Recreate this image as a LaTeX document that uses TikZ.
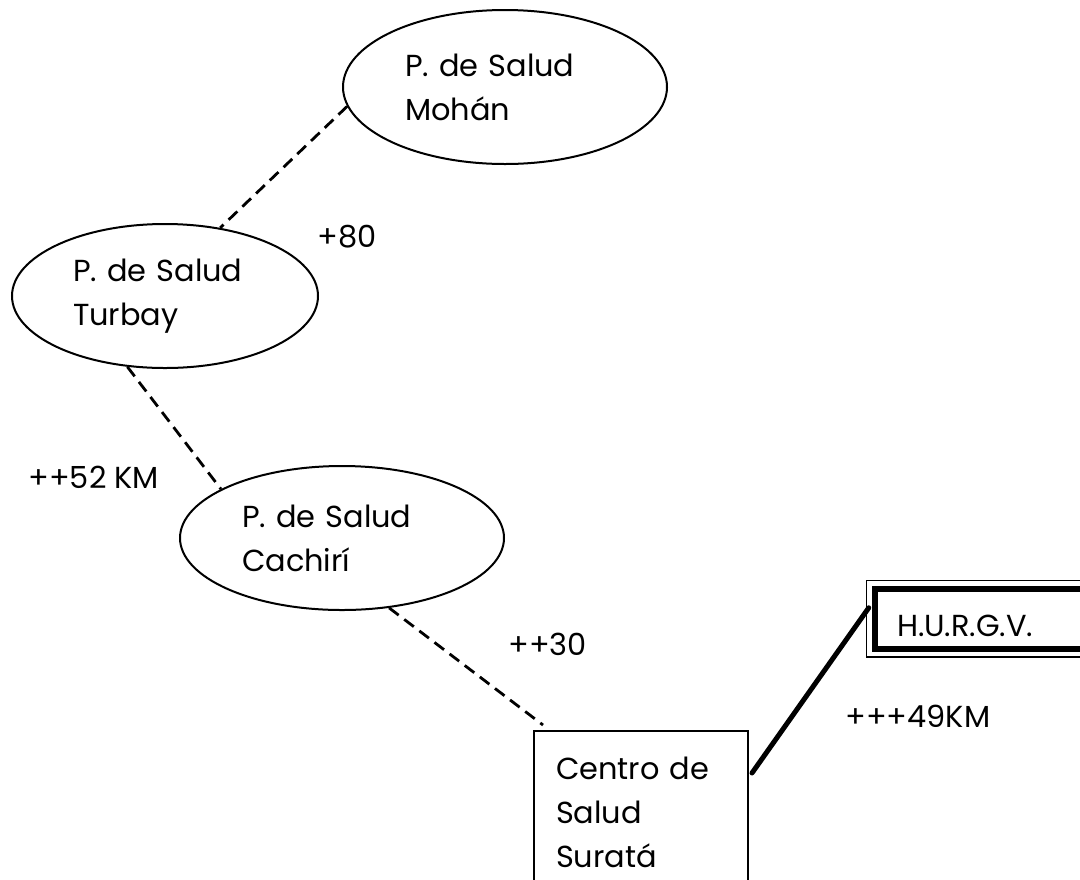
\documentclass[tikz,border=0pt]{standalone}
\usepackage{fontspec}
\setmainfont{Poppins}
\usetikzlibrary{shapes.geometric, fit}
\tikzstyle{place} = [ellipse, draw=black, line width=1pt, text width=100pt, align=left, inner xsep=0pt]
\tikzstyle{station} = [rectangle, draw=black, line width=1pt, align=left]
\tikzstyle{hospital} = [rectangle, draw=black, line width=3pt, align=left]
\tikzstyle{road} = [line width=1.4pt, dash pattern=on 6pt off 3.5pt]
\tikzstyle{highway} = [line width=2.5pt, line cap=round]
\tikzstyle{dist} = [anchor=base west, inner sep=0pt]

\begin{document}
\begin{tikzpicture}[x=0.5pt, y=-0.5pt, every node/.style={font=\fontsize{15.2}{22}\selectfont}]
\useasboundingbox (0,0) rectangle (1080,879);
\clip (0,0) rectangle (1080,879);

% Puestos de salud
\node (mohan) [place, minimum width=162pt, minimum height=77pt] at (505,87) {P. de Salud\\Mohán};
\node (turbay) [place, minimum width=153pt, minimum height=72pt, text width=92pt] at (165,296) {P. de Salud\\Turbay};
\node (cachiri) [place, minimum width=162pt, minimum height=72pt] at (342,538) {P. de Salud\\Cachirí};

% Centro de salud
\node (centro) [station, anchor=north west, text width=85pt, inner xsep=11pt, inner ysep=13pt] at (533,730) {Centro de\\Salud\\Suratá};

% Hospital
\node (hurgv) [hospital, anchor=north west, minimum width=130pt, minimum height=30.25pt, text width=107.5pt, text height=18pt, inner xsep=11.25pt] at (871.5,585.5) {H.U.R.G.V.};
\node (hurgv-frame) [draw=black, line width=0.75pt, fit=(hurgv), inner sep=2.5pt] {};

% Distancias
\node (d80) [dist] at (317,247) {+80};
\node (d52) [dist] at (28,488) {++52 KM};
\node (d30) [dist] at (508,655) {++30};
\node (d49) [dist] at (845,727) {+++49KM};

% Vias
\draw [road] (mohan.187) -- (turbay.51);
\draw [road] (turbay.242) -- (cachiri.158);
\draw [road] (cachiri.304) -- ([shift={(10,-5)}]centro.north west);
\draw [highway] ([shift={(3,43)}]centro.north east) -- ([shift={(3,-11)}]hurgv-frame.west);

\end{tikzpicture}
\end{document}
